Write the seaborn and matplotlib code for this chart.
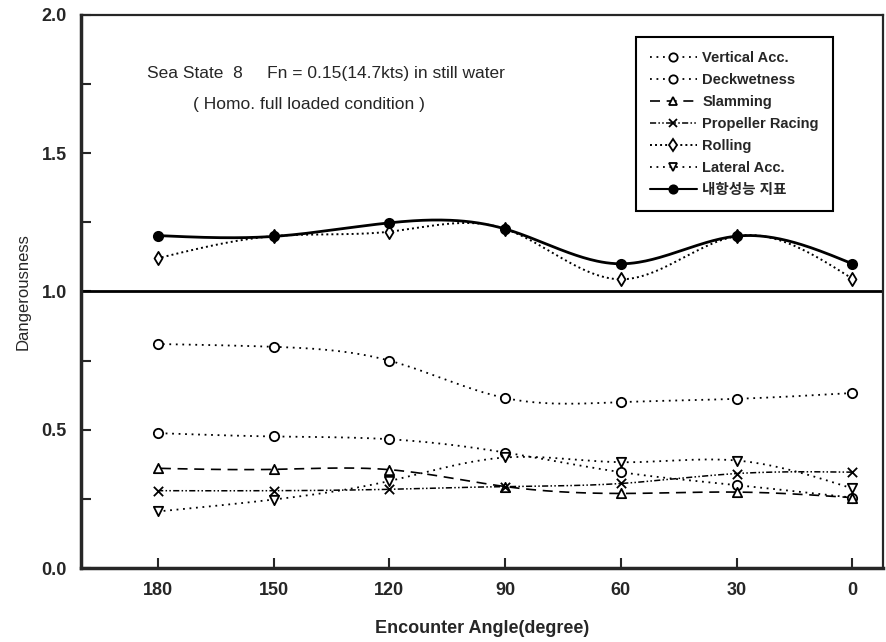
import numpy as np
import seaborn as sns
import matplotlib
matplotlib.use("Agg")
import matplotlib.pyplot as plt
from matplotlib.lines import Line2D
from matplotlib.ticker import MultipleLocator

angles = [180, 150, 120, 90, 60, 30, 0]

vertical_acc = [0.81, 0.80, 0.75, 0.615, 0.60, 0.612, 0.633]
deckwetness = [0.488, 0.476, 0.466, 0.418, 0.347, 0.300, 0.255]
slamming = [0.361, 0.357, 0.356, 0.295, 0.270, 0.275, 0.255]
propeller = [0.280, 0.280, 0.285, 0.295, 0.306, 0.342, 0.347]
rolling = [1.120, 1.200, 1.216, 1.226, 1.044, 1.200, 1.046]
lateral = [0.205, 0.248, 0.315, 0.400, 0.383, 0.389, 0.288]
index_total = [1.202, 1.199, 1.248, 1.226, 1.100, 1.200, 1.100]

labels = ["Vertical Acc.", "Deckwetness", "Slamming", "Propeller Racing",
          "Rolling", "Lateral Acc.", "내항성능 지표"]


def smooth(x, y, n=300):
    # natural cubic spline just for drawing the curve between the read points
    x = np.asarray(x, float)
    y = np.asarray(y, float)
    o = np.argsort(x)
    x, y = x[o], y[o]
    m = len(x)
    h = np.diff(x)
    A = np.zeros((m, m))
    b = np.zeros(m)
    A[0, 0] = A[-1, -1] = 1
    for i in range(1, m - 1):
        A[i, i - 1] = h[i - 1]
        A[i, i] = 2 * (h[i - 1] + h[i])
        A[i, i + 1] = h[i]
        b[i] = 6 * ((y[i + 1] - y[i]) / h[i] - (y[i] - y[i - 1]) / h[i - 1])
    M = np.linalg.solve(A, b)
    xs = np.linspace(x[0], x[-1], n)
    k = np.clip(np.searchsorted(x, xs) - 1, 0, m - 2)
    t0 = x[k + 1] - xs
    t1 = xs - x[k]
    hk = h[k]
    ys = (M[k] * t0 ** 3 + M[k + 1] * t1 ** 3) / (6 * hk) \
        + (y[k] / hk - M[k] * hk / 6) * t0 + (y[k + 1] / hk - M[k + 1] * hk / 6) * t1
    return xs, ys


sns.set_style("ticks")
plt.rcParams['font.family'] = ['Liberation Sans', 'Noto Sans CJK KR']

fig = plt.figure(figsize=(8.86, 6.42), dpi=100)
ax = fig.add_axes([0.091, 0.115, 0.906, 0.862])

dot = (0, (1, 2.6))
series = [
    (vertical_acc, dot, 'o', 'white', 1.3, 3),
    (deckwetness, dot, 'o', 'white', 1.3, 3),
    (slamming, (0, (6, 4)), '^', 'white', 1.2, 3),
    (propeller, (0, (4, 1.5, 1, 1.5, 1, 1.5)), 'x', 'black', 1.1, 3),
    (rolling, (0, (1, 1.6)), 'd', 'white', 1.4, 3),
    (lateral, dot, 'v', 'white', 1.3, 3),
    (index_total, '-', 'o', 'black', 2.0, 4),
]

handles = []
for (vals, ls, mk, fc, lw, z), lab in zip(series, labels):
    xs, ys = smooth(angles, vals)
    sns.lineplot(x=xs, y=ys, ax=ax, color='black', linewidth=lw,
                 linestyle=ls, sort=False, estimator=None, zorder=z)
    sns.scatterplot(x=angles, y=vals, ax=ax, marker=mk, s=45,
                    facecolor=fc, edgecolor='black', color='black',
                    linewidth=1.3, zorder=z + 1)
    handles.append(Line2D([0], [0], color='black', linestyle=ls, linewidth=min(lw, 1.5),
                          marker=mk, markersize=6, markerfacecolor=fc,
                          markeredgecolor='black', markeredgewidth=1.3))

ax.axhline(1.0, color='black', linewidth=2, zorder=2)

ax.set_xlim(200, -8)
ax.set_ylim(0, 2.0)
ax.set_xticks(angles)
ax.set_yticks([0.0, 0.5, 1.0, 1.5, 2.0])
ax.set_yticklabels(["0.0", "0.5", "1.0", "1.5", "2.0"])
ax.yaxis.set_minor_locator(MultipleLocator(0.25))
ax.tick_params(axis='both', which='both', direction='in', length=7, width=1.5,
               labelsize=13, pad=10)
ax.tick_params(axis='x', which='minor', length=0)
for t in ax.get_xticklabels() + ax.get_yticklabels():
    t.set_fontweight('bold')

for s in ['left', 'bottom']:
    ax.spines[s].set_linewidth(2.5)
for s in ['top', 'right']:
    ax.spines[s].set_linewidth(1.6)

ax.set_xlabel("Encounter Angle(degree)", fontsize=13, fontweight='bold', labelpad=15)
ax.set_ylabel("Dangerousness", fontsize=12, labelpad=8)

ax.text(0.083, 0.893, "Sea State  8     Fn = 0.15(14.7kts) in still water",
        transform=ax.transAxes, fontsize=12.5, va='center')
ax.text(0.14, 0.838, "( Homo. full loaded condition )",
        transform=ax.transAxes, fontsize=12.5, va='center')

leg = ax.legend(handles, labels, loc='upper right', bbox_to_anchor=(0.937, 0.96),
                borderaxespad=0, frameon=True, fancybox=False, edgecolor='black',
                framealpha=1, prop={'size': 10.5, 'weight': 'bold'}, handlelength=3.2,
                handletextpad=0.4, labelspacing=0.55, borderpad=0.95)
leg.get_frame().set_linewidth(1.5)

fig.savefig("out.png", dpi=100)
